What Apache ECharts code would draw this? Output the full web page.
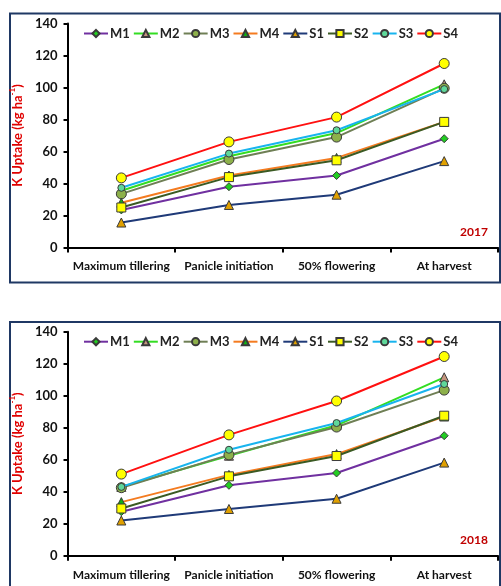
<!DOCTYPE html>
<html>
<head>
<meta charset="utf-8">
<script src="https://cdn.jsdelivr.net/npm/echarts@6/dist/echarts.min.js"></script>
<style>
  html, body { margin: 0; padding: 0; background: #fff; }
  #chart { width: 501px; height: 586px; }
</style>
</head>
<body>
<div id="chart"></div>
<script>
// Growth stages on the x axis
const stages = ['Maximum tillering', 'Panicle initiation', '50% flowering', 'At harvest'];
const yTicks = [0, 20, 40, 60, 80, 100, 120, 140];
const years = ['2017', '2018'];

// K uptake (kg ha-1), 2017 season
const m1_2017 = [23.5, 38, 45, 68];
const m2_2017 = [35.5, 57, 71.5, 102];
const m3_2017 = [33.5, 55, 69, 99.5];
const m4_2017 = [28, 45, 56, 78.5];
const s1_2017 = [15.6, 26.6, 33, 54];
const s2_2017 = [25, 44, 54.5, 78.5];
const s3_2017 = [37.3, 58.7, 73.3, 99];
const s4_2017 = [43.5, 66, 81.5, 115];

// K uptake (kg ha-1), 2018 season
const m1_2018 = [27.5, 44, 51.7, 75];
const m2_2018 = [43, 62.5, 81.5, 111.5];
const m3_2018 = [42.5, 63, 80.4, 103.5];
const m4_2018 = [33.5, 50.5, 63.5, 87];
const s1_2018 = [22, 29.2, 35.6, 58.2];
const s2_2018 = [29.5, 49.6, 62.3, 87.5];
const s3_2018 = [43, 66.2, 82.9, 107.3];
const s4_2018 = [51, 75.5, 96.7, 124.5];

const names = ['M1', 'M2', 'M3', 'M4', 'S1', 'S2', 'S3', 'S4'];
const data2017 = [m1_2017, m2_2017, m3_2017, m4_2017, s1_2017, s2_2017, s3_2017, s4_2017];
const data2018 = [m1_2018, m2_2018, m3_2018, m4_2018, s1_2018, s2_2018, s3_2018, s4_2018];

// line colour, marker shape, marker fill, marker size
const styles = {
  M1: { line: '#7030a0', symbol: 'diamond', fill: '#22cc22', size: 8 },
  M2: { line: '#33dd22', symbol: 'triangle', fill: '#c4957d', size: 9 },
  M3: { line: '#6f7f55', symbol: 'circle', fill: '#8db04a', size: 10 },
  M4: { line: '#f47b20', symbol: 'triangle', fill: '#12b012', size: 9 },
  S1: { line: '#1f3a78', symbol: 'triangle', fill: '#e0a000', size: 9 },
  S2: { line: '#3b5a23', symbol: 'rect', fill: '#ffff00', size: 9 },
  S3: { line: '#18b4ee', symbol: 'circle', fill: '#5fd89a', size: 7 },
  S4: { line: '#ff1010', symbol: 'circle', fill: '#ffff00', size: 10 }
};

const FONT = 'Lato';
const panelTop = [23.5, 331.7];
const plotH = 224;

const grids = panelTop.map(t => ({ left: 60, right: 3, top: t, height: plotH }));

const xAxes = grids.map((g, i) => ({
  type: 'category',
  gridIndex: i,
  data: stages,
  boundaryGap: true,
  axisLine: { lineStyle: { color: '#000', width: 2 } },
  axisTick: { show: true, length: 5, alignWithLabel: false, lineStyle: { color: '#000', width: 2 } },
  axisLabel: { color: '#111', fontFamily: FONT, fontWeight: 'bold', fontSize: 12, margin: 13, interval: 0 }
}));

const yAxes = grids.map((g, i) => ({
  type: 'value',
  gridIndex: i,
  min: yTicks[0],
  max: yTicks[yTicks.length - 1],
  interval: yTicks[1] - yTicks[0],
  name: '{t|K Uptake (kg ha}{s|-1}{t|)}',
  nameLocation: 'middle',
  nameGap: 37,
  nameRotate: 90,
  nameTextStyle: {
    rich: {
      t: { color: '#e00000', fontFamily: FONT, fontWeight: 'bold', fontSize: 13, lineHeight: 16, verticalAlign: 'bottom' },
      s: { color: '#e00000', fontFamily: FONT, fontWeight: 'bold', fontSize: 8, lineHeight: 16, verticalAlign: 'top' }
    }
  },
  splitLine: { show: false },
  axisLine: { show: true, lineStyle: { color: '#000', width: 2 } },
  axisTick: { show: true, length: 4, lineStyle: { color: '#000', width: 2 } },
  axisLabel: { color: '#111', fontFamily: FONT, fontWeight: 'bold', fontSize: 13, margin: 10 }
}));

const series = [];
[data2017, data2018].forEach((set, gi) => {
  set.forEach((vals, k) => {
    const st = styles[names[k]];
    series.push({
      name: names[k],
      type: 'line',
      xAxisIndex: gi,
      yAxisIndex: gi,
      data: vals,
      symbol: st.symbol,
      symbolSize: st.size,
      showAllSymbol: true,
      lineStyle: { color: st.line, width: 2 },
      itemStyle: { color: st.fill, borderColor: '#3a3a3a', borderWidth: 1 },
      emphasis: { disabled: true },
      z: 2 + k
    });
  });
});

const legends = panelTop.map(t => ({
  data: names,
  left: 78,
  top: t - 1.5,
  itemWidth: 24,
  itemHeight: 9,
  itemGap: 3,
  textStyle: { color: '#222', fontFamily: FONT, fontWeight: 'bold', fontSize: 13, padding: [0, 0, 0, -3] }
}));

const chart = echarts.init(document.getElementById('chart'), null, { renderer: 'canvas' });
chart.setOption({
  animation: false,
  backgroundColor: '#ffffff',
  grid: grids,
  xAxis: xAxes,
  yAxis: yAxes,
  legend: legends,
  series: series,
  graphic: [
    { type: 'rect', shape: { x: 10, y: 13.5, width: 490, height: 269 }, style: { fill: 'none', stroke: '#1f3864', lineWidth: 2 }, z: 0 },
    { type: 'rect', shape: { x: 10, y: 322, width: 490, height: 280 }, style: { fill: 'none', stroke: '#1f3864', lineWidth: 2 }, z: 0 },
    { type: 'text', left: 460, top: 226, style: { text: years[0], fill: '#c00000', font: 'bold 12px Lato' } },
    { type: 'text', left: 460, top: 534, style: { text: years[1], fill: '#c00000', font: 'bold 12px Lato' } }
  ]
});
</script>
</body>
</html>
